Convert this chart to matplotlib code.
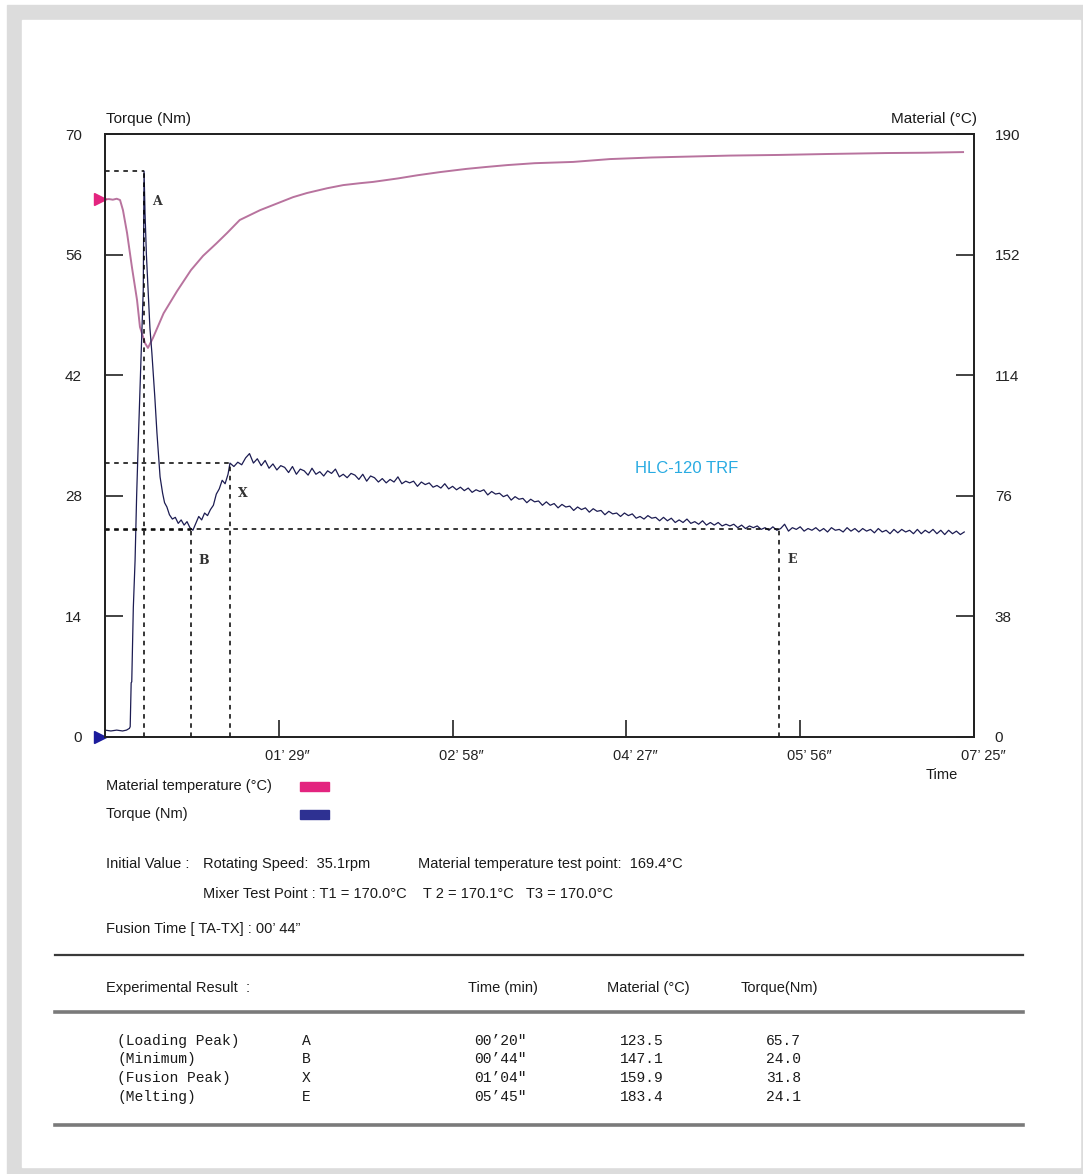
import numpy as np
import matplotlib
matplotlib.use("Agg")
import matplotlib.pyplot as plt
import matplotlib.transforms as mtransforms
from matplotlib.patches import Rectangle
from matplotlib.lines import Line2D

W, H = 1083, 1174

# Material temperature (s, degC)
temp_t = [0, 2, 4, 6, 7.7, 9.2, 11.3, 13.8, 16.4, 17.9, 20.5, 22, 24.6, 30, 36.9,
          44, 50.2, 57, 62.5, 69, 79.4, 86, 96.3, 103.4, 113.7, 122, 130.6, 137.2,
          150, 160, 171.6, 185, 195, 205.9, 220, 239.7, 258.6, 280, 300, 320, 345,
          370, 400, 420, 439.4]
temp_c = [169.4, 169.5, 169.3, 169.6, 169.2, 166.0, 158.8, 148.0, 137.7, 129.2, 124.1,
          122.6, 125.8, 133.5, 140.5, 147.1, 151.6, 155.5, 158.8, 162.9, 166.0, 167.6,
          170.1, 171.4, 172.9, 173.9, 174.5, 174.9, 176.0, 177.0, 178.0, 179.0, 179.6,
          180.2, 180.8, 181.2, 182.1, 182.6, 182.9, 183.2, 183.4, 183.7, 184.0, 184.1,
          184.3]

# Torque, loading part (s, Nm)
torque_t_start = [0, 3, 6, 9, 11, 12.5, 12.9, 13.4, 13.7, 14.5, 15.4, 16.2, 17, 18,
                  18.9, 19.6, 20, 20.5, 21.2, 22, 23, 24, 25.5, 26.6, 27.5, 28.2, 29.5,
                  30.5, 31.7, 33, 34.5, 36, 37.5, 39, 40.5, 42, 43.5, 45, 46.5, 48,
                  49.5, 51, 52.5, 54, 55.5, 57, 58.5, 60, 61.5, 63, 64]
torque_start = [0.8, 0.7, 0.8, 0.7, 0.8, 1.0, 1.2, 6.3, 6.4, 15.0, 20.5, 28.0, 34.0,
                41.0, 47.0, 52.0, 65.7, 60.8, 56.0, 52.2, 47.5, 44.6, 39.5, 35.3, 32.5,
                30.2, 28.3, 27.2, 26.7, 25.8, 25.3, 25.5, 24.8, 25.2, 24.6, 25.0, 24.3,
                24.0, 24.8, 25.6, 25.2, 26.0, 25.7, 26.4, 26.9, 28.2, 28.8, 29.8, 29.4,
                30.5, 31.8]

# Torque, after fusion, read every ~2 s from 66 s to 440 s
torque_tail = [
    31.4, 31.9, 31.6, 32.4, 32.9, 31.8, 32.3, 31.5, 32.1, 31.2,
    31.7, 31.0, 31.5, 31.3, 30.7, 31.4, 30.5, 31.1, 30.9, 30.4,
    31.2, 30.5, 30.8, 30.3, 30.9, 30.6, 31.1, 30.2, 30.5, 30.1,
    30.6, 30.4, 29.9, 30.5, 29.7, 30.3, 30.1, 29.6, 30.0, 29.5,
    29.9, 29.6, 30.2, 29.4, 29.7, 29.5, 29.7, 29.1, 29.6, 29.3,
    29.5, 29.0, 29.2, 28.9, 29.4, 28.8, 29.1, 28.7, 29.0, 28.6,
    28.9, 28.4, 28.7, 28.5, 28.7, 28.1, 28.5, 28.2, 28.3, 27.9,
    28.1, 27.5, 27.9, 27.6, 27.7, 27.2, 27.6, 27.3, 27.4, 26.9,
    27.3, 26.9, 27.1, 26.6, 27.0, 26.7, 26.8, 26.3, 26.7, 26.4,
    26.6, 26.1, 26.5, 26.2, 26.3, 25.8, 26.2, 25.9, 26.0, 25.6,
    26.0, 25.7, 25.9, 25.4, 25.6, 25.3, 25.7, 25.4, 25.5, 25.1,
    25.5, 25.1, 25.4, 24.9, 25.2, 24.9, 25.3, 24.8, 25.0, 24.7,
    25.1, 24.6, 24.9, 24.6, 24.9, 24.5, 24.7, 24.5, 24.7, 24.3,
    24.6, 24.2, 24.5, 24.3, 24.5, 24.1, 24.3, 24.0, 24.4, 24.0,
    24.2, 24.7, 23.9, 24.3, 24.1, 24.4, 23.9, 24.2, 24.0, 24.3,
    23.9, 24.2, 23.8, 24.3, 24.0, 24.1, 23.8, 24.3, 23.9, 24.2,
    23.8, 24.2, 23.9, 24.1, 23.7, 24.2, 23.8, 24.0, 23.6, 24.1,
    23.7, 24.1, 23.8, 24.0, 23.6, 24.1, 23.6, 24.0, 23.7, 24.1,
    23.6, 24.0, 23.5, 24.0, 23.6, 23.9, 23.5, 23.8,
]
torque_t_tail = np.linspace(66, 440, len(torque_tail))

# Characteristic points
event_names = ["(Loading Peak)", "(Minimum)", "(Fusion Peak)", "(Melting)"]
event_codes = ["A", "B", "X", "E"]
event_time_lbl = ["00\u201920\u2033", "00\u201944\u2033", "01\u201904\u2033", "05\u201945\u2033"]
event_t = [20, 44, 64, 345]
event_temp = [123.5, 147.1, 159.9, 183.4]
event_torque = [65.7, 24.0, 31.8, 24.1]

time_ticks = [89, 178, 267, 356, 445]
time_labels = ["01\u2019 29\u2033", "02\u2019 58\u2033", "04\u2019 27\u2033",
               "05\u2019 56\u2033", "07\u2019 25\u2033"]
torque_ticks = [0, 14, 28, 42, 56, 70]
temp_ticks = [0, 38, 76, 114, 152, 190]

plt.rcParams['font.family'] = ['Liberation Sans', 'DejaVu Sans']

fig = plt.figure(figsize=(W / 100, H / 100), dpi=100)


def fx(px):
    return px / W


def fy(py):
    return 1 - py / H


# grey frame
fig.add_artist(Rectangle((fx(7), 0), fx(1083) - fx(7), (H - 5) / H,
                         transform=fig.transFigure, color="#dcdcdc", zorder=-10))
fig.add_artist(Rectangle((fx(22), fy(1167)), fx(1080) - fx(22), (1167 - 20) / H,
                         transform=fig.transFigure, color="white", zorder=-9))

ax = fig.add_axes([fx(105), fy(737), fx(974) - fx(105), (737 - 134) / H])
ax2 = ax.twinx()
ax.set_zorder(ax2.get_zorder() + 1)
ax.patch.set_visible(False)

ax2.plot(temp_t, temp_c, color="#b8739e", lw=1.4)
ax.plot(torque_t_start + list(torque_t_tail), torque_start + torque_tail,
        color="#1c1c52", lw=0.9)

dash = (0, (3, 3))
for t, v in zip(event_t, event_torque):
    ax.plot([0, t], [v, v], color="black", lw=1.1, ls=dash)
    ax.plot([t, t], [0, v], color="black", lw=1.1, ls=dash)
for code, t, v in zip(event_codes, event_t, event_torque):
    ax.annotate(code, (t, v), xytext=(13, -30), textcoords="offset pixels",
                ha="center", va="center", fontsize=9, fontweight="bold",
                family="DejaVu Serif", color="#333333")

# start markers
shift = mtransforms.ScaledTranslation(-5 / 100, 0, fig.dpi_scale_trans)
ax.plot([0], [temp_c[0] * 70 / 190], marker=">", ms=9, color="#e3247f",
        clip_on=False, transform=ax.transData + shift)
ax.plot([0], [torque_start[0] * 0], marker=">", ms=9, color="#1b1b9c",
        clip_on=False, transform=ax.transData + shift)

ax.set_xlim(0, 445)
ax.set_ylim(0, 70)
ax2.set_ylim(0, 190)
ax.set_xticks(time_ticks)
ax.set_xticklabels(time_labels)
ax.set_yticks(torque_ticks)
ax2.set_yticks(temp_ticks)
ax.tick_params(axis="x", direction="in", length=12, width=1.2, pad=9,
               labelsize=10.5, colors="#222222")
ax.tick_params(axis="y", direction="in", length=13, width=1.2, pad=16.5,
               labelsize=11, colors="#222222")
ax2.tick_params(axis="y", direction="in", length=13, width=1.2, pad=15,
                labelsize=11, colors="#222222")
for a in (ax, ax2):
    for s in a.spines.values():
        s.set_linewidth(1.3)
        s.set_color("#222222")

offset = mtransforms.ScaledTranslation(9 / 100, 0, fig.dpi_scale_trans)
for lab in ax.get_xticklabels():
    lab.set_transform(lab.get_transform() + offset)

ax.text(0.61, 0.445, "HLC-120 TRF", transform=ax.transAxes, color="#29abe2",
        fontsize=12, va="center", ha="left")


def txt(x, y, s, **kw):
    kw.setdefault("fontsize", 10.5)
    kw.setdefault("va", "center")
    kw.setdefault("color", "#1a1a1a")
    fig.text(fx(x), fy(y), s, **kw)


txt(106, 119, "Torque (Nm)", fontsize=11)
txt(977, 119, "Material (\u00b0C)", fontsize=11, ha="right")
txt(926, 775, "Time", fontsize=10.5)

# legend
txt(106, 786, "Material temperature (\u00b0C)")
txt(106, 814, "Torque (Nm)")
fig.add_artist(Rectangle((fx(300), fy(791)), fx(329) - fx(300), 9 / H,
                         transform=fig.transFigure, color="#e3247f"))
fig.add_artist(Rectangle((fx(300), fy(819)), fx(329) - fx(300), 9 / H,
                         transform=fig.transFigure, color="#2e3192"))

txt(106, 864, "Initial Value :")
txt(203, 864, "Rotating Speed:  35.1rpm")
txt(418, 864, "Material temperature test point:  169.4\u00b0C")
txt(203, 894, "Mixer Test Point : T1 = 170.0\u00b0C    T 2 = 170.1\u00b0C   T3 = 170.0\u00b0C")
txt(106, 929, "Fusion Time [ TA-TX] : 00\u2019 44\u201d")

# results table
for y, c, lw in [(955, "#3a3a3a", 1.6), (1012, "#7a7a7a", 2.6), (1125, "#7a7a7a", 2.6)]:
    fig.add_artist(Line2D([fx(55), fx(1023)], [fy(y), fy(y)], color=c, lw=lw))

txt(106, 988, "Experimental Result  :")
txt(468, 988, "Time (min)")
txt(607, 988, "Material (\u00b0C)")
txt(741, 988, "Torque(Nm)")

mono = ["Liberation Mono", "DejaVu Sans Mono"]
row_y = [1041, 1059, 1078, 1097]
for y, name, code, tl, tc, tq in zip(row_y, event_names, event_codes, event_time_lbl,
                                     event_temp, event_torque):
    txt(117, y, name, family=mono, fontsize=10.5)
    txt(302, y, code, family=mono, fontsize=10.5)
    txt(474, y, tl, family=mono, fontsize=10.5)
    txt(620, y, f"{tc:.1f}", family=mono, fontsize=10.5)
    txt(766, y, f"{tq:.1f}", family=mono, fontsize=10.5)

fig.savefig("out.png", dpi=100)
plt.close(fig)
